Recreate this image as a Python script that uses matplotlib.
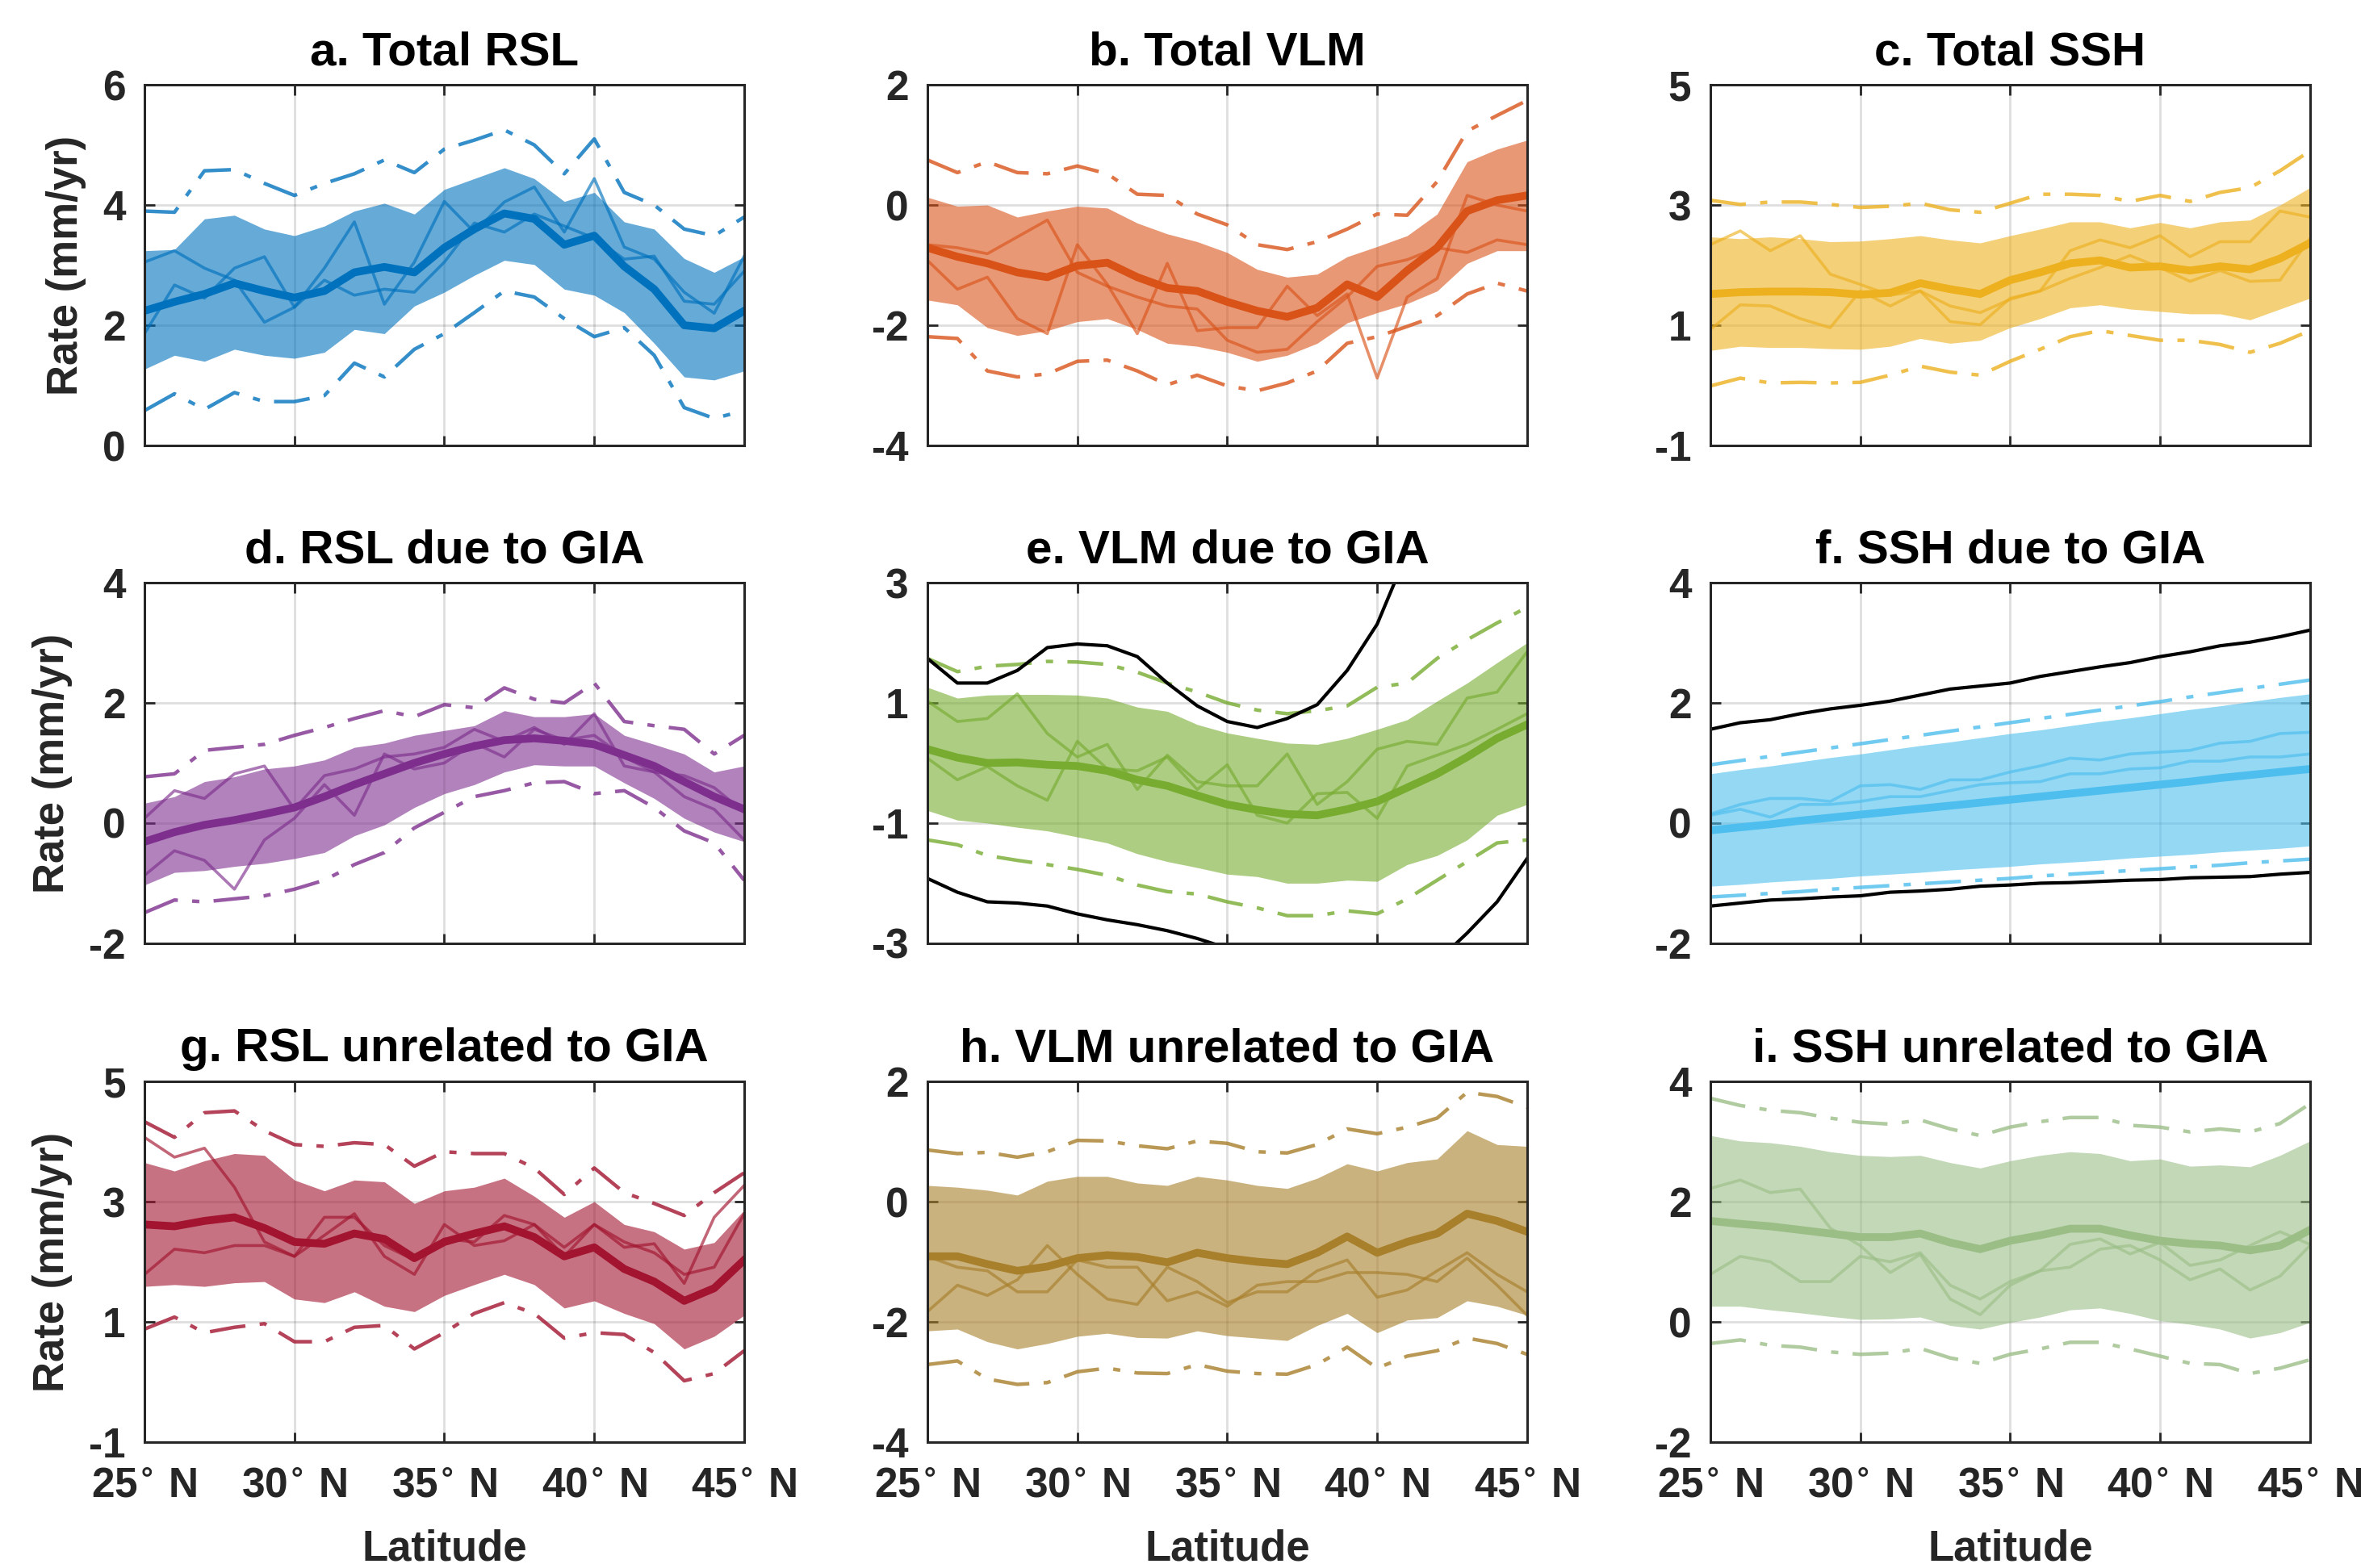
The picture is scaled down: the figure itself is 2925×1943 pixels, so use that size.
import numpy as np
import matplotlib
matplotlib.use("Agg")
import matplotlib.pyplot as plt

plt.rcParams['font.family'] = ['Liberation Sans', 'DejaVu Sans']
plt.rcParams['font.weight'] = 'bold'
plt.rcParams['mathtext.fontset'] = 'dejavusans'
plt.rcParams['axes.unicode_minus'] = False

nan = np.nan
lat = list(range(25, 46))

# a. Total RSL
a_med = [2.24, 2.39, 2.52, 2.70, 2.57, 2.46, 2.57, 2.88, 2.97, 2.88, 3.29, 3.60, 3.86, 3.77, 3.34, 3.49, 2.98, 2.60, 2.00, 1.95, 2.24]
a_hi = [3.24, 3.26, 3.77, 3.83, 3.60, 3.49, 3.65, 3.90, 4.03, 3.85, 4.26, 4.44, 4.62, 4.44, 4.06, 4.21, 3.72, 3.60, 3.11, 2.88, 3.14]
a_lo = [1.27, 1.50, 1.40, 1.60, 1.50, 1.45, 1.55, 1.93, 1.86, 2.32, 2.55, 2.83, 3.08, 3.01, 2.60, 2.50, 2.21, 1.70, 1.14, 1.09, 1.24]
a_dhi = [3.90, 3.88, 4.57, 4.59, 4.36, 4.16, 4.36, 4.52, 4.75, 4.54, 4.93, 5.08, 5.25, 5.00, 4.52, 5.10, 4.21, 4.00, 3.60, 3.49, 3.80]
a_dlo = [0.58, 0.86, 0.60, 0.88, 0.73, 0.73, 0.83, 1.37, 1.14, 1.60, 1.86, 2.21, 2.57, 2.47, 2.11, 1.81, 1.96, 1.50, 0.63, 0.45, 0.58]
a_s1 = [3.05, 3.24, 2.95, 2.75, 2.05, 2.30, 2.95, 3.72, 2.35, 3.05, 4.06, 3.55, 4.05, 4.30, 3.55, 4.44, 3.30, 3.10, 2.55, 2.20, 3.15]
a_s2 = [1.86, 2.67, 2.45, 2.95, 3.14, 2.30, 2.75, 2.50, 2.60, 2.55, 3.05, 3.70, 3.55, 3.85, 3.65, 3.45, 3.10, 3.15, 2.40, 2.35, 2.90]

# b. Total VLM
b_med = [-0.71, -0.86, -0.97, -1.12, -1.20, -1.01, -0.96, -1.20, -1.38, -1.43, -1.61, -1.76, -1.86, -1.71, -1.32, -1.53, -1.09, -0.71, -0.10, 0.08, 0.16]
b_hi = [0.13, -0.02, 0.00, -0.20, -0.10, -0.02, -0.05, -0.30, -0.48, -0.61, -0.79, -1.07, -1.20, -1.15, -0.86, -0.69, -0.51, -0.15, 0.72, 0.93, 1.08]
b_lo = [-1.58, -1.66, -2.04, -2.17, -2.09, -1.94, -1.89, -2.07, -2.30, -2.35, -2.45, -2.60, -2.50, -2.30, -1.96, -1.79, -1.64, -1.43, -0.97, -0.76, -0.76]
b_dhi = [0.75, 0.54, 0.72, 0.54, 0.52, 0.65, 0.52, 0.18, 0.16, -0.15, -0.33, -0.66, -0.74, -0.61, -0.40, -0.15, -0.17, 0.39, 1.23, 1.49, 1.74]
b_dlo = [-2.19, -2.22, -2.76, -2.86, -2.81, -2.60, -2.58, -2.76, -2.99, -2.83, -3.01, -3.09, -2.96, -2.76, -2.30, -2.19, -2.02, -1.84, -1.48, -1.30, -1.43]
b_s1 = [-0.92, -1.40, -1.20, -1.89, -2.14, -0.66, -1.32, -2.14, -0.97, -2.09, -2.04, -2.04, -1.35, -1.84, -1.48, -2.88, -1.53, -1.22, 0.16, 0.00, -0.10]
b_s2 = [-0.66, -0.71, -0.81, -0.53, -0.25, -1.12, -1.35, -1.53, -1.68, -1.73, -2.25, -2.45, -2.40, -1.94, -1.53, -1.02, -0.91, -0.71, -0.79, -0.58, -0.66]

# c. Total SSH
c_med = [1.52, 1.55, 1.56, 1.56, 1.55, 1.51, 1.54, 1.70, 1.60, 1.52, 1.75, 1.88, 2.03, 2.08, 1.96, 1.98, 1.91, 1.98, 1.93, 2.11, 2.37]
c_hi = [2.47, 2.44, 2.47, 2.44, 2.39, 2.40, 2.44, 2.49, 2.42, 2.37, 2.49, 2.60, 2.72, 2.72, 2.62, 2.71, 2.62, 2.72, 2.75, 3.00, 3.29]
c_lo = [0.58, 0.65, 0.63, 0.63, 0.61, 0.60, 0.65, 0.78, 0.70, 0.75, 0.96, 1.11, 1.29, 1.34, 1.27, 1.23, 1.19, 1.19, 1.09, 1.27, 1.45]
c_dhi = [3.08, 3.01, 3.05, 3.05, 3.01, 2.96, 2.98, 3.03, 2.92, 2.88, 3.03, 3.18, 3.18, 3.16, 3.06, 3.16, 3.06, 3.21, 3.29, 3.57, 3.90]
c_dlo = [-0.01, 0.12, 0.04, 0.05, 0.04, 0.05, 0.17, 0.32, 0.22, 0.17, 0.40, 0.60, 0.81, 0.91, 0.83, 0.75, 0.75, 0.68, 0.55, 0.70, 0.91]
c_s1 = [2.34, 2.57, 2.24, 2.49, 1.85, 1.68, 1.50, 1.57, 1.06, 1.01, 1.45, 1.57, 2.24, 2.42, 2.29, 2.49, 2.14, 2.39, 2.39, 2.90, 2.80]
c_s2 = [0.93, 1.34, 1.32, 1.11, 0.96, 1.57, 1.32, 1.57, 1.32, 1.21, 1.43, 1.57, 1.78, 1.96, 2.16, 1.96, 1.73, 1.91, 1.73, 1.75, 2.44]

# d. RSL due to GIA
d_med = [-0.31, -0.15, -0.03, 0.05, 0.15, 0.26, 0.44, 0.64, 0.82, 1.00, 1.15, 1.28, 1.38, 1.41, 1.37, 1.31, 1.13, 0.95, 0.69, 0.44, 0.23]
d_hi = [0.33, 0.44, 0.69, 0.77, 0.90, 0.95, 1.05, 1.26, 1.33, 1.46, 1.54, 1.62, 1.87, 1.77, 1.77, 1.82, 1.46, 1.31, 1.15, 0.85, 0.95]
d_lo = [-1.03, -0.82, -0.79, -0.72, -0.67, -0.59, -0.49, -0.21, -0.03, 0.26, 0.49, 0.64, 0.85, 0.97, 0.95, 0.95, 0.67, 0.41, 0.08, -0.15, -0.31]
d_dhi = [0.77, 0.82, 1.21, 1.26, 1.31, 1.46, 1.59, 1.74, 1.87, 1.77, 1.97, 1.92, 2.25, 2.06, 2.00, 2.33, 1.69, 1.62, 1.56, 1.15, 1.46]
d_dlo = [-1.49, -1.28, -1.31, -1.26, -1.21, -1.10, -0.95, -0.69, -0.49, -0.08, 0.18, 0.44, 0.54, 0.67, 0.69, 0.49, 0.54, 0.26, -0.13, -0.33, -0.95]
d_s1 = [0.08, 0.54, 0.41, 0.82, 0.95, 0.23, 0.79, 0.90, 1.10, 1.15, 1.26, 1.56, 1.36, 1.59, 1.31, 1.82, 0.95, 0.85, 0.79, 0.59, 0.18]
d_s2 = [-0.87, -0.46, -0.62, -1.10, -0.28, 0.08, 0.64, 0.13, 1.15, 0.90, 1.00, 1.33, 1.10, 1.56, 1.38, 1.46, 1.10, 0.85, 0.44, 0.23, -0.28]

# e. VLM due to GIA
e_med = [0.23, 0.09, 0.00, 0.01, -0.03, -0.05, -0.13, -0.28, -0.38, -0.54, -0.69, -0.78, -0.85, -0.87, -0.77, -0.64, -0.41, -0.18, 0.10, 0.41, 0.64]
e_hi = [1.26, 1.08, 1.13, 1.14, 1.14, 1.13, 1.08, 0.93, 0.86, 0.64, 0.50, 0.41, 0.33, 0.31, 0.41, 0.56, 0.72, 1.03, 1.33, 1.67, 2.00]
e_lo = [-0.79, -0.95, -1.00, -1.07, -1.13, -1.23, -1.33, -1.51, -1.64, -1.74, -1.85, -1.89, -2.00, -2.00, -1.95, -1.97, -1.69, -1.54, -1.28, -0.87, -0.69]
e_dhi = [1.74, 1.52, 1.61, 1.64, 1.69, 1.68, 1.64, 1.51, 1.33, 1.18, 1.00, 0.88, 0.82, 0.87, 0.95, 1.26, 1.33, 1.74, 2.05, 2.33, 2.59]
e_dlo = [-1.28, -1.36, -1.54, -1.62, -1.69, -1.77, -1.87, -2.03, -2.14, -2.18, -2.31, -2.41, -2.54, -2.54, -2.46, -2.51, -2.26, -1.95, -1.64, -1.33, -1.28]
e_s1 = [1.03, 0.69, 0.74, 1.15, 0.49, 0.10, 0.31, -0.44, 0.13, -0.31, -0.38, -0.38, 0.15, -0.69, -0.31, 0.23, 0.36, 0.31, 1.08, 1.18, 1.85]
e_s2 = [0.08, -0.28, -0.06, -0.38, -0.62, 0.36, -0.10, -0.13, 0.10, -0.44, -0.03, -0.87, -1.00, -0.51, -0.49, -0.92, -0.05, 0.13, 0.31, 0.56, 0.82]
e_bhi = [1.74, 1.33, 1.33, 1.54, 1.92, 1.98, 1.95, 1.77, 1.33, 0.95, 0.69, 0.59, 0.74, 0.97, 1.54, 2.31, 3.50, nan, nan, nan, nan]
e_blo = [-1.92, -2.15, -2.31, -2.33, -2.38, -2.51, -2.61, -2.69, -2.79, -2.92, -3.08, nan, nan, nan, nan, nan, nan, -3.30, -2.83, -2.31, -1.59]

# f. SSH due to GIA
f_med = [-0.12, -0.07, -0.02, 0.04, 0.09, 0.14, 0.19, 0.24, 0.29, 0.34, 0.39, 0.44, 0.49, 0.54, 0.59, 0.64, 0.69, 0.75, 0.80, 0.85, 0.90]
f_hi = [0.82, 0.89, 0.95, 1.02, 1.09, 1.15, 1.22, 1.29, 1.35, 1.42, 1.49, 1.55, 1.62, 1.69, 1.75, 1.82, 1.89, 1.95, 2.02, 2.09, 2.15]
f_lo = [-1.05, -1.02, -0.98, -0.95, -0.92, -0.88, -0.85, -0.82, -0.78, -0.75, -0.72, -0.68, -0.65, -0.62, -0.58, -0.55, -0.52, -0.48, -0.45, -0.42, -0.38]
f_dhi = [0.97, 1.04, 1.11, 1.18, 1.25, 1.32, 1.39, 1.46, 1.53, 1.60, 1.67, 1.74, 1.81, 1.88, 1.95, 2.02, 2.10, 2.17, 2.24, 2.31, 2.38]
f_dlo = [-1.23, -1.20, -1.17, -1.14, -1.10, -1.07, -1.04, -1.01, -0.98, -0.95, -0.92, -0.88, -0.85, -0.82, -0.79, -0.76, -0.73, -0.70, -0.66, -0.63, -0.60]
f_s1 = [0.15, 0.31, 0.41, 0.41, 0.36, 0.62, 0.64, 0.56, 0.72, 0.72, 0.85, 0.95, 1.08, 1.05, 1.15, 1.18, 1.21, 1.33, 1.36, 1.49, 1.51]
f_s2 = [0.13, 0.23, 0.10, 0.31, 0.31, 0.36, 0.44, 0.44, 0.54, 0.64, 0.67, 0.69, 0.82, 0.82, 0.90, 0.92, 1.03, 1.03, 1.10, 1.10, 1.15]
f_bhi = [1.56, 1.67, 1.72, 1.82, 1.90, 1.96, 2.03, 2.13, 2.23, 2.28, 2.33, 2.44, 2.52, 2.60, 2.67, 2.77, 2.85, 2.95, 3.01, 3.10, 3.21]
f_blo = [-1.38, -1.33, -1.28, -1.26, -1.23, -1.21, -1.15, -1.13, -1.10, -1.05, -1.03, -1.00, -0.99, -0.97, -0.95, -0.94, -0.91, -0.90, -0.89, -0.85, -0.82]

# g. RSL unrelated to GIA
g_med = [2.62, 2.59, 2.68, 2.74, 2.56, 2.33, 2.30, 2.47, 2.38, 2.06, 2.33, 2.47, 2.59, 2.41, 2.09, 2.24, 1.88, 1.67, 1.35, 1.56, 2.03]
g_hi = [3.65, 3.51, 3.68, 3.80, 3.77, 3.36, 3.18, 3.36, 3.33, 2.97, 3.18, 3.24, 3.39, 3.09, 2.74, 3.00, 2.62, 2.50, 2.21, 2.32, 2.86]
g_lo = [1.59, 1.62, 1.59, 1.65, 1.67, 1.38, 1.32, 1.50, 1.26, 1.17, 1.44, 1.62, 1.79, 1.62, 1.23, 1.35, 1.14, 0.97, 0.55, 0.76, 1.11]
g_dhi = [4.33, 4.07, 4.48, 4.51, 4.18, 3.95, 3.92, 3.98, 3.95, 3.59, 3.83, 3.80, 3.80, 3.56, 3.12, 3.56, 3.15, 2.97, 2.77, 3.15, 3.48]
g_dlo = [0.88, 1.08, 0.82, 0.91, 0.97, 0.67, 0.67, 0.91, 0.94, 0.55, 0.82, 1.14, 1.32, 1.14, 0.73, 0.82, 0.79, 0.49, 0.02, 0.14, 0.52]
g_s1 = [4.07, 3.74, 3.89, 3.24, 2.33, 2.09, 2.74, 2.74, 2.27, 2.03, 2.38, 2.33, 2.77, 2.62, 2.09, 2.62, 2.24, 2.30, 1.64, 2.74, 3.27]
g_s2 = [1.79, 2.21, 2.15, 2.27, 2.27, 2.09, 2.44, 2.80, 2.09, 1.79, 2.62, 2.27, 2.35, 2.62, 2.24, 2.62, 2.33, 2.15, 1.79, 1.91, 2.80]

# h. VLM unrelated to GIA
h_med = [-0.91, -0.91, -1.04, -1.15, -1.08, -0.94, -0.89, -0.92, -1.01, -0.85, -0.94, -1.00, -1.04, -0.85, -0.58, -0.85, -0.67, -0.53, -0.20, -0.32, -0.50]
h_hi = [0.27, 0.24, 0.19, 0.11, 0.34, 0.42, 0.42, 0.31, 0.27, 0.42, 0.36, 0.27, 0.22, 0.39, 0.63, 0.51, 0.65, 0.71, 1.18, 0.95, 0.92]
h_lo = [-2.15, -2.12, -2.33, -2.45, -2.36, -2.24, -2.19, -2.26, -2.27, -2.15, -2.23, -2.27, -2.31, -2.06, -1.86, -2.18, -1.97, -1.93, -1.65, -1.74, -1.89]
h_dhi = [0.86, 0.80, 0.82, 0.74, 0.83, 1.02, 1.01, 0.93, 0.88, 1.01, 0.97, 0.83, 0.81, 0.95, 1.21, 1.13, 1.24, 1.39, 1.82, 1.75, 1.57]
h_dlo = [-2.71, -2.65, -2.95, -3.04, -3.01, -2.83, -2.77, -2.85, -2.86, -2.71, -2.82, -2.86, -2.87, -2.71, -2.42, -2.77, -2.57, -2.48, -2.27, -2.36, -2.54]
h_s1 = [-1.83, -1.39, -1.56, -1.30, -0.73, -1.21, -1.62, -1.71, -1.09, -1.33, -1.68, -1.50, -1.50, -1.15, -0.97, -1.59, -1.47, -1.15, -0.85, -1.21, -1.50]
h_s2 = [-0.91, -1.09, -1.15, -1.50, -1.50, -0.97, -1.09, -1.09, -1.65, -1.50, -1.74, -1.39, -1.33, -1.33, -1.18, -1.18, -1.21, -1.33, -0.94, -1.39, -1.89]

# i. SSH unrelated to GIA
i_med = [1.68, 1.63, 1.59, 1.53, 1.47, 1.41, 1.41, 1.47, 1.32, 1.21, 1.35, 1.44, 1.55, 1.55, 1.44, 1.35, 1.30, 1.27, 1.19, 1.27, 1.53]
i_hi = [3.10, 3.01, 2.98, 2.92, 2.83, 2.77, 2.75, 2.77, 2.65, 2.56, 2.68, 2.77, 2.83, 2.80, 2.68, 2.71, 2.59, 2.61, 2.58, 2.77, 3.01]
i_lo = [0.26, 0.26, 0.20, 0.15, 0.09, 0.04, 0.05, 0.08, -0.06, -0.12, -0.01, 0.08, 0.20, 0.23, 0.14, 0.02, -0.04, -0.12, -0.27, -0.18, -0.01]
i_dhi = [3.72, 3.60, 3.52, 3.48, 3.39, 3.32, 3.29, 3.36, 3.21, 3.10, 3.24, 3.33, 3.40, 3.40, 3.27, 3.24, 3.16, 3.21, 3.16, 3.30, 3.63]
i_dlo = [-0.36, -0.30, -0.39, -0.42, -0.50, -0.54, -0.52, -0.44, -0.60, -0.69, -0.54, -0.45, -0.34, -0.34, -0.45, -0.57, -0.69, -0.71, -0.86, -0.77, -0.63]
i_s1 = [2.22, 2.36, 2.15, 2.21, 1.56, 1.27, 0.82, 1.12, 0.38, 0.12, 0.61, 0.85, 1.29, 1.38, 1.13, 1.32, 0.94, 1.03, 1.27, 1.50, 1.29]
i_s2 = [0.79, 1.09, 1.00, 0.67, 0.67, 1.09, 1.00, 1.15, 0.61, 0.38, 0.67, 0.85, 0.91, 1.21, 1.27, 1.03, 0.70, 0.88, 0.53, 0.76, 1.27]

titles = ['a. Total RSL', 'b. Total VLM', 'c. Total SSH',
          'd. RSL due to GIA', 'e. VLM due to GIA', 'f. SSH due to GIA',
          'g. RSL unrelated to GIA', 'h. VLM unrelated to GIA', 'i. SSH unrelated to GIA']
colors = ['#0072BD', '#D95319', '#EDB120',
          '#7E2F8E', '#77AC30', '#4DBEEE',
          '#A2142F', '#A87F2A', '#9BBE87']
yticks = [[0, 2, 4, 6], [-4, -2, 0, 2], [-1, 1, 3, 5],
          [-2, 0, 2, 4], [-3, -1, 1, 3], [-2, 0, 2, 4],
          [-1, 1, 3, 5], [-4, -2, 0, 2], [-2, 0, 2, 4]]
xticks = [25, 30, 35, 40, 45]
xlabels = [r'%d$^{\circ}$ N' % v for v in xticks]

series = [
    (a_med, a_lo, a_hi, a_dlo, a_dhi, a_s1, a_s2, None, None),
    (b_med, b_lo, b_hi, b_dlo, b_dhi, b_s1, b_s2, None, None),
    (c_med, c_lo, c_hi, c_dlo, c_dhi, c_s1, c_s2, None, None),
    (d_med, d_lo, d_hi, d_dlo, d_dhi, d_s1, d_s2, None, None),
    (e_med, e_lo, e_hi, e_dlo, e_dhi, e_s1, e_s2, e_blo, e_bhi),
    (f_med, f_lo, f_hi, f_dlo, f_dhi, f_s1, f_s2, f_blo, f_bhi),
    (g_med, g_lo, g_hi, g_dlo, g_dhi, g_s1, g_s2, None, None),
    (h_med, h_lo, h_hi, h_dlo, h_dhi, h_s1, h_s2, None, None),
    (i_med, i_lo, i_hi, i_dlo, i_dhi, i_s1, i_s2, None, None),
]

axcol = '#262626'
fig = plt.figure(figsize=(29.25, 19.43), dpi=100)
lefts = [0.0612, 0.3928, 0.7244]
bottoms = [0.7159, 0.3984, 0.0803]
w, h = 0.254, 0.230
dashdot = (0, (10, 4, 2, 4))

for k in range(9):
    r, c = divmod(k, 3)
    ax = fig.add_axes([lefts[c], bottoms[r], w, h])
    med, lo, hi, dlo, dhi, s1, s2, blo, bhi = series[k]
    col = colors[k]
    ax.fill_between(lat, lo, hi, color=col, alpha=0.6, lw=0)
    ax.plot(lat, s1, color=col, alpha=0.65, lw=2.6)
    ax.plot(lat, s2, color=col, alpha=0.65, lw=2.6)
    ax.plot(lat, dhi, color=col, alpha=0.8, lw=3.2, ls=dashdot)
    ax.plot(lat, dlo, color=col, alpha=0.8, lw=3.2, ls=dashdot)
    ax.plot(lat, med, color=col, lw=7)
    if blo is not None:
        ax.plot(lat, bhi, color='black', lw=3)
        ax.plot(lat, blo, color='black', lw=3)

    ax.set_xlim(25, 45)
    ax.set_ylim(yticks[k][0], yticks[k][-1])
    ax.set_yticks(yticks[k])
    ax.set_xticks(xticks)
    if r == 2:
        ax.set_xticklabels(xlabels)
        ax.set_xlabel('Latitude', fontsize=38, fontweight='bold', color=axcol, labelpad=20)
    else:
        ax.set_xticklabels([])
    if c == 0:
        ax.set_ylabel('Rate (mm/yr)', fontsize=38, fontweight='bold', color=axcol, labelpad=14)
    ax.set_title(titles[k], fontsize=42, fontweight='bold', pad=18)
    ax.grid(True, color=axcol, alpha=0.15, lw=2)
    ax.set_axisbelow(True)
    ax.tick_params(direction='in', length=9, width=2, top=True, right=True,
                   labelsize=37, colors=axcol)
    ax.tick_params(axis='y', pad=17)
    ax.tick_params(axis='x', pad=22)
    for sp in ax.spines.values():
        sp.set_linewidth(2.2)
        sp.set_color(axcol)

fig.savefig('out.png', dpi=100)
